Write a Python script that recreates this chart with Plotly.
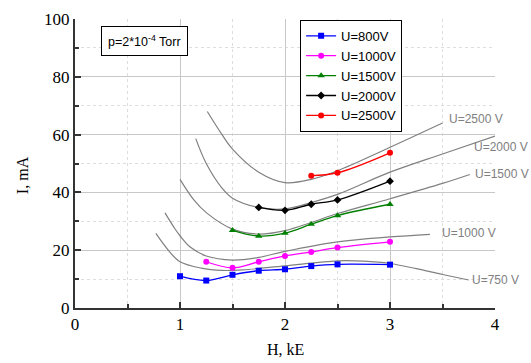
import plotly.graph_objects as go

# Measured data
h800 = [1.0, 1.25, 1.5, 1.75, 2.0, 2.25, 2.5, 3.0]
i800 = [11.0, 9.5, 11.5, 12.9, 13.4, 14.5, 15.1, 15.0]
h1000 = [1.25, 1.5, 1.75, 2.0, 2.25, 2.5, 3.0]
i1000 = [16.0, 13.9, 16.0, 18.0, 19.4, 20.9, 22.9]
h1500 = [1.5, 1.75, 2.0, 2.25, 2.5, 3.0]
i1500 = [26.9, 24.9, 25.9, 29.0, 32.0, 35.9]
h2000 = [1.75, 2.0, 2.25, 2.5, 3.0]
i2000 = [34.8, 33.8, 35.9, 37.4, 43.9]
h2500 = [2.25, 2.5, 3.0]
i2500 = [45.8, 46.8, 53.7]

# Theoretical (gray) curves
t750_h = [0.77, 0.9, 1.0, 1.2, 1.4, 1.6, 2.0, 2.5, 2.75, 3.0, 3.25, 3.5, 3.75]
t750_i = [25.8, 19.5, 16.0, 13.8, 13.0, 13.2, 14.6, 16.3, 16.2, 15.4, 13.6, 11.6, 9.7]
t1000_h = [0.857, 0.95, 1.0, 1.1, 1.25, 1.5, 1.75, 2.0, 2.5, 3.0, 3.38]
t1000_i = [32.9, 27.5, 25.0, 21.0, 18.0, 16.6, 17.5, 19.6, 22.9, 24.6, 25.5]
t1500_h = [1.0, 1.13, 1.25, 1.5, 1.75, 2.0, 2.25, 2.5, 3.0, 3.5, 3.76]
t1500_i = [44.5, 37.5, 33.0, 27.3, 25.6, 26.8, 29.6, 32.7, 37.8, 43.1, 46.2]
t2000_h = [1.15, 1.25, 1.4, 1.5, 1.75, 2.0, 2.25, 2.5, 3.0, 3.5, 4.0]
t2000_i = [58.6, 50.0, 41.5, 38.0, 34.8, 34.3, 36.5, 39.3, 47.0, 53.3, 59.5]
t2500_h = [1.26, 1.4, 1.5, 1.75, 2.0, 2.25, 2.5, 3.0, 3.5]
t2500_i = [68.0, 60.0, 55.0, 47.0, 43.4, 44.5, 47.5, 55.6, 64.0]

theory = [(t750_h, t750_i), (t1000_h, t1000_i), (t1500_h, t1500_i),
          (t2000_h, t2000_i), (t2500_h, t2500_i)]
curve_labels = ["U=750 V", "U=1000 V", "U=1500 V", "U=2000 V", "U=2500 V"]
label_x = [3.76, 3.476, 3.79, 3.78, 3.543]
label_y = [9.7, 26.0, 46.4, 55.7, 65.4]

series_names = ["U=800V", "U=1000V", "U=1500V", "U=2000V", "U=2500V"]
series_h = [h800, h1000, h1500, h2000, h2500]
series_i = [i800, i1000, i1500, i2000, i2500]
colors = ["#0000FF", "#FF00FF", "#008000", "#000000", "#FF0000"]
symbols = ["square", "circle", "triangle-up", "diamond", "circle"]
msizes = [6, 6, 6.5, 6, 6]

fig = go.Figure()
for th, ti in theory:
    fig.add_trace(go.Scatter(x=th, y=ti, mode="lines", showlegend=False,
                             line=dict(color="#808080", width=1.2, shape="spline"),
                             hoverinfo="skip", cliponaxis=False))

for n, h, i, c, s, ms in zip(series_names, series_h, series_i, colors, symbols, msizes):
    fig.add_trace(go.Scatter(x=h, y=i, mode="lines+markers", name=n,
                             line=dict(color=c, width=1.3, shape="spline"),
                             marker=dict(color=c, symbol=s, size=ms)))

for t, x, y in zip(curve_labels, label_x, label_y):
    fig.add_annotation(x=x, y=y, text=t, showarrow=False, xanchor="left", yanchor="middle",
                       font=dict(family="Liberation Sans, Arial", size=12, color="#808080"))

fig.add_annotation(x=0.063, y=0.925, xref="paper", yref="paper", xanchor="left", yanchor="middle",
                   text="p=2*10<sup>-4</sup> Torr", showarrow=False,
                   font=dict(family="Liberation Sans, Arial", size=12.5, color="black"),
                   bordercolor="black", borderwidth=1, borderpad=6, bgcolor="white")

# Axis titles as annotations (fixed positions)
fig.add_annotation(x=0.5, y=-0.145, xref="paper", yref="paper", text="H, kE",
                   showarrow=False, xanchor="center", yanchor="middle",
                   font=dict(family="Liberation Serif, Times New Roman", size=16, color="black"))
fig.add_annotation(x=-0.126, y=0.46, xref="paper", yref="paper", text="I, mA", textangle=-90,
                   showarrow=False, xanchor="center", yanchor="middle",
                   font=dict(family="Liberation Serif, Times New Roman", size=16, color="black"))

fig.update_layout(
    width=531, height=363,
    margin=dict(l=75, r=36, t=19, b=55, autoexpand=False),
    paper_bgcolor="white", plot_bgcolor="white",
    font=dict(family="Liberation Serif, Times New Roman", size=16, color="black"),
    legend=dict(x=0.536, y=0.997, xanchor="left", yanchor="top",
                bordercolor="black", borderwidth=1, bgcolor="white",
                font=dict(family="Liberation Sans, Arial", size=13, color="black"),
                tracegroupgap=0, itemwidth=30),
    showlegend=True,
)
fig.update_xaxes(range=[0, 4], dtick=1, showline=True, linecolor="#333", linewidth=2,
                 ticks="inside", ticklen=6, tickcolor="#333", tickwidth=1.5,
                 showgrid=True, gridcolor="#C8C8C8", gridwidth=1, zeroline=False,
                 automargin=False,
                 minor=dict(dtick=0.5, ticks="inside", ticklen=4, tickcolor="#333",
                            showgrid=True, gridcolor="#DDDDDD", griddash="dot"),
                 tickfont=dict(family="Liberation Serif, Times New Roman", size=17))
fig.update_yaxes(range=[0, 100], dtick=20, showline=True, linecolor="#333", linewidth=2,
                 ticks="inside", ticklen=6, tickcolor="#333", tickwidth=1.5,
                 showgrid=True, gridcolor="#C8C8C8", gridwidth=1, zeroline=False,
                 automargin=False,
                 minor=dict(dtick=10, ticks="inside", ticklen=4, tickcolor="#333",
                            showgrid=True, gridcolor="#DDDDDD", griddash="dot"),
                 tickfont=dict(family="Liberation Serif, Times New Roman", size=17))

fig.write_html("out.html")
